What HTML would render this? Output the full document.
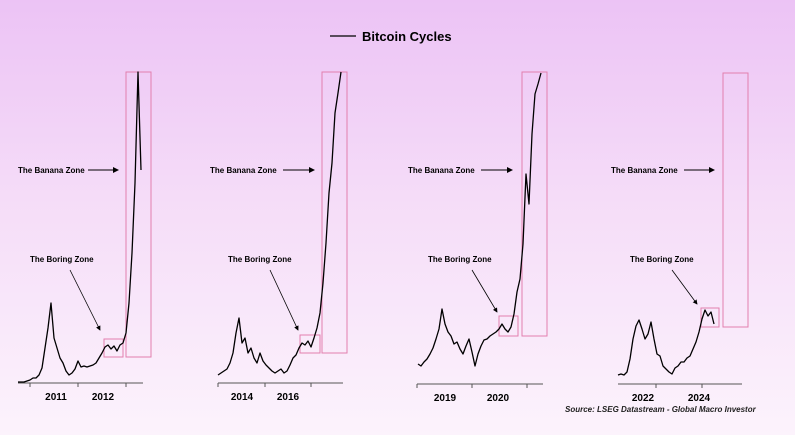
<!DOCTYPE html>
<html><head><meta charset="utf-8"><style>
html,body{margin:0;padding:0;}
body{width:795px;height:435px;overflow:hidden;background:linear-gradient(#ecc3f5 0%,#f5dcf8 45%,#fcf3fc 100%);font-family:"Liberation Sans",sans-serif;}
svg{display:block;}
svg text{font-family:"Liberation Sans",sans-serif;}
</style></head><body>
<svg id="chart" width="795" height="435" xmlns="http://www.w3.org/2000/svg">
<defs><marker id="ah" markerWidth="6" markerHeight="6" refX="5" refY="3" orient="auto"><path d="M0,0 L6,3 L0,6 z" fill="#000"/></marker></defs>
<g>
<line x1="330" y1="36" x2="356" y2="36" stroke="#000" stroke-width="1.3"/>
<text x="362" y="41" font-size="13" font-weight="bold">Bitcoin Cycles</text>
</g>
<text x="565" y="412" font-size="8" font-style="italic" font-weight="bold" fill="#222">Source: LSEG Datastream - Global Macro Investor</text>
</svg>
<script>
const cycle1 = [1,1,1,2,3,5,5,8,15,35,55,80,45,35,25,20,12,8,10,14,22,16,17,16,17,18,20,25,30,36,38,34,37,32,38,40,50,80,130,200,311,213];
const cycle2 = [8,10,12,14,20,30,50,65,40,45,30,35,25,20,30,22,18,15,12,10,12,14,10,12,18,25,28,35,40,38,42,36,45,55,70,100,140,190,220,270,290,311];
const cycle3 = [20,18,22,25,30,36,45,55,75,60,52,48,40,42,35,30,38,45,32,18,30,38,44,45,48,50,52,55,60,55,52,57,70,92,105,140,210,180,250,290,300,311];
const cycle4 = [9,10,9,12,25,45,58,64,55,45,50,62,45,30,28,18,15,12,10,16,18,22,22,26,28,35,42,52,65,74,68,72,60];
const yearLabels1 = ["2011","2012"];
const yearLabels2 = ["2014","2016"];
const yearLabels3 = ["2019","2020"];
const yearLabels4 = ["2022","2024"];
const NS="http://www.w3.org/2000/svg";
const svg=document.getElementById('chart');
function mk(tag,attrs,parent){const e=document.createElementNS(NS,tag);for(const k in attrs)e.setAttribute(k,attrs[k]);(parent||svg).appendChild(e);return e;}
const panels=[
 {data:cycle1,labels:yearLabels1,x0:18,base:383,ax0:18,ax1:143,ticks:[30,78,126],lab:[56,103],boring:[104,339,19,18],banana:[126,72,25,285],bl:[18,88,118],bo:[30,70,270,100,330]},
 {data:cycle2,labels:yearLabels2,x0:218,base:383,ax0:218,ax1:343,ticks:[218,265,311],lab:[242,288],boring:[300,335,20,18],banana:[322,72,25,281],bl:[210,283,314],bo:[228,270,270,298,330]},
 {data:cycle3,labels:yearLabels3,x0:418,base:384,ax0:417,ax1:543,ticks:[417,472,527],lab:[445,498],boring:[499,316,19,20],banana:[522,72,25,264],bl:[408,481,512],bo:[428,472,270,497,312]},
 {data:cycle4,labels:yearLabels4,x0:618,base:384,ax0:618,ax1:742,ticks:[656,702],lab:[643,699],boring:[701,308,18,19],banana:[723,73,25,254],bl:[611,684,714],bo:[630,672,270,697,304]}
];
const step=3;
panels.forEach((p,i)=>{
 const g=mk('g',{});
 
 
 const ax=mk('line',{x1:p.ax0,y1:p.base,x2:p.ax1,y2:p.base,stroke:'#555','stroke-width':1},g);
 
 
 p.ticks.forEach(t=>{const tk=mk('line',{x1:t,y1:p.base,x2:t,y2:p.base+4,stroke:'#555'},g);
  
  });
 p.labels.forEach((l,j)=>{const tx=mk('text',{x:p.lab[j],y:p.base+17,'font-size':10,'font-weight':'bold','text-anchor':'middle'},g);tx.textContent=l;
  
  });
 const bx=p.boring;const br=mk('rect',{x:bx[0],y:bx[1],width:bx[2],height:bx[3],fill:'none',stroke:'#e27fae','stroke-width':1},g);
 
 
 const bn=p.banana;const bz=mk('rect',{x:bn[0],y:bn[1],width:bn[2],height:bn[3],fill:'none',stroke:'#e27fae','stroke-width':1},g);
 
 
 const pts=p.data.map((v,k)=>(p.x0+k*step)+','+(p.base-v)).join(' ');
 const pl=mk('polyline',{points:pts,fill:'none',stroke:'#000','stroke-width':1.3,'stroke-linejoin':'round'},g);
 
 
 const t1=mk('text',{x:p.bl[0],y:173,'font-size':8,'font-weight':'bold'},g);t1.textContent='The Banana Zone';
 
 
 const a1=mk('line',{x1:p.bl[1],y1:170,x2:p.bl[2],y2:170,stroke:'#000','stroke-width':1,'marker-end':'url(#ah)'},g);
 
 
 const t2=mk('text',{x:p.bo[0],y:262,'font-size':8,'font-weight':'bold'},g);t2.textContent='The Boring Zone';
 
 
 const a2=mk('line',{x1:p.bo[1],y1:p.bo[2],x2:p.bo[3],y2:p.bo[4],stroke:'#000','stroke-width':0.8,'marker-end':'url(#ah)'},g);
 
 
});
</script>
</body></html>
